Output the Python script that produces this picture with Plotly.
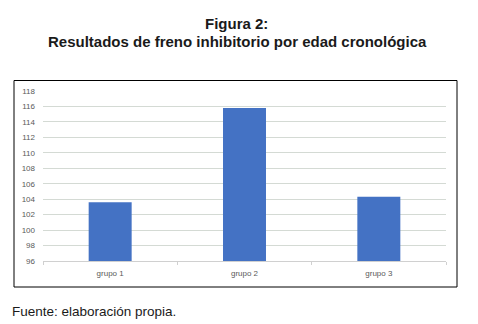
import plotly.graph_objects as go

categories = ["grupo 1", "grupo 2", "grupo 3"]
values = [103.6, 115.8, 104.3]
y_ticks = list(range(96, 119, 2))

fig = go.Figure(go.Bar(x=categories, y=values, marker=dict(color="#4472C4", line=dict(width=0)), width=0.32))

OFF = 8  # page body offset
L, R, T, B = 43 - OFF, 32 + OFF, 91 - OFF, 63 + OFF
W, H = 478, 324
pw, ph = W - L - R, H - T - B

def px2x(px):
    return (px - OFF - L) / pw

def py2y(py):
    return (H - B - (py - OFF)) / ph

fig.update_layout(
    width=W, height=H,
    margin=dict(l=L, r=R, t=T, b=B),
    paper_bgcolor="white", plot_bgcolor="white",
    showlegend=False,
    font=dict(family="Arial, Liberation Sans", color="#595959"),
    xaxis=dict(showgrid=False, showline=True, linecolor="#d0d0d0", linewidth=1,
               tickfont=dict(size=8, color="#595959"), ticks="outside", tickson="boundaries",
               ticklen=3, tickcolor="#d0d0d0", ticklabelstandoff=4, fixedrange=True),
    yaxis=dict(range=[96, 118], tickvals=y_ticks, showgrid=True, gridcolor="#d4dad4", gridwidth=1,
               zeroline=False, showline=False, tickfont=dict(size=8, color="#595959"),
               ticks="", ticklabelstandoff=7, fixedrange=True),
    shapes=[dict(type="rect", xref="paper", yref="paper",
                 x0=px2x(14), x1=px2x(457), y0=py2y(287), y1=py2y(80.5),
                 line=dict(color="black", width=1), fillcolor="rgba(0,0,0,0)", layer="below")],
    annotations=[
        dict(text="<b>Figura 2:</b>", xref="paper", yref="paper", x=px2x(236), y=py2y(23),
             showarrow=False, font=dict(size=15, color="#1a1a1a", family="Arial, Liberation Sans"),
             xanchor="center", yanchor="middle"),
        dict(text="<b>Resultados de freno inhibitorio por edad cronológica</b>", xref="paper", yref="paper",
             x=px2x(237), y=py2y(42), showarrow=False,
             font=dict(size=15, color="#1a1a1a", family="Arial, Liberation Sans"),
             xanchor="center", yanchor="middle"),
        dict(text="Fuente: elaboración propia.", xref="paper", yref="paper", x=px2x(10), y=py2y(311),
             showarrow=False, font=dict(size=13.5, color="#1a1a1a", family="Arial, Liberation Sans"),
             xanchor="left", yanchor="middle"),
    ],
)

fig.write_html("out.html")
